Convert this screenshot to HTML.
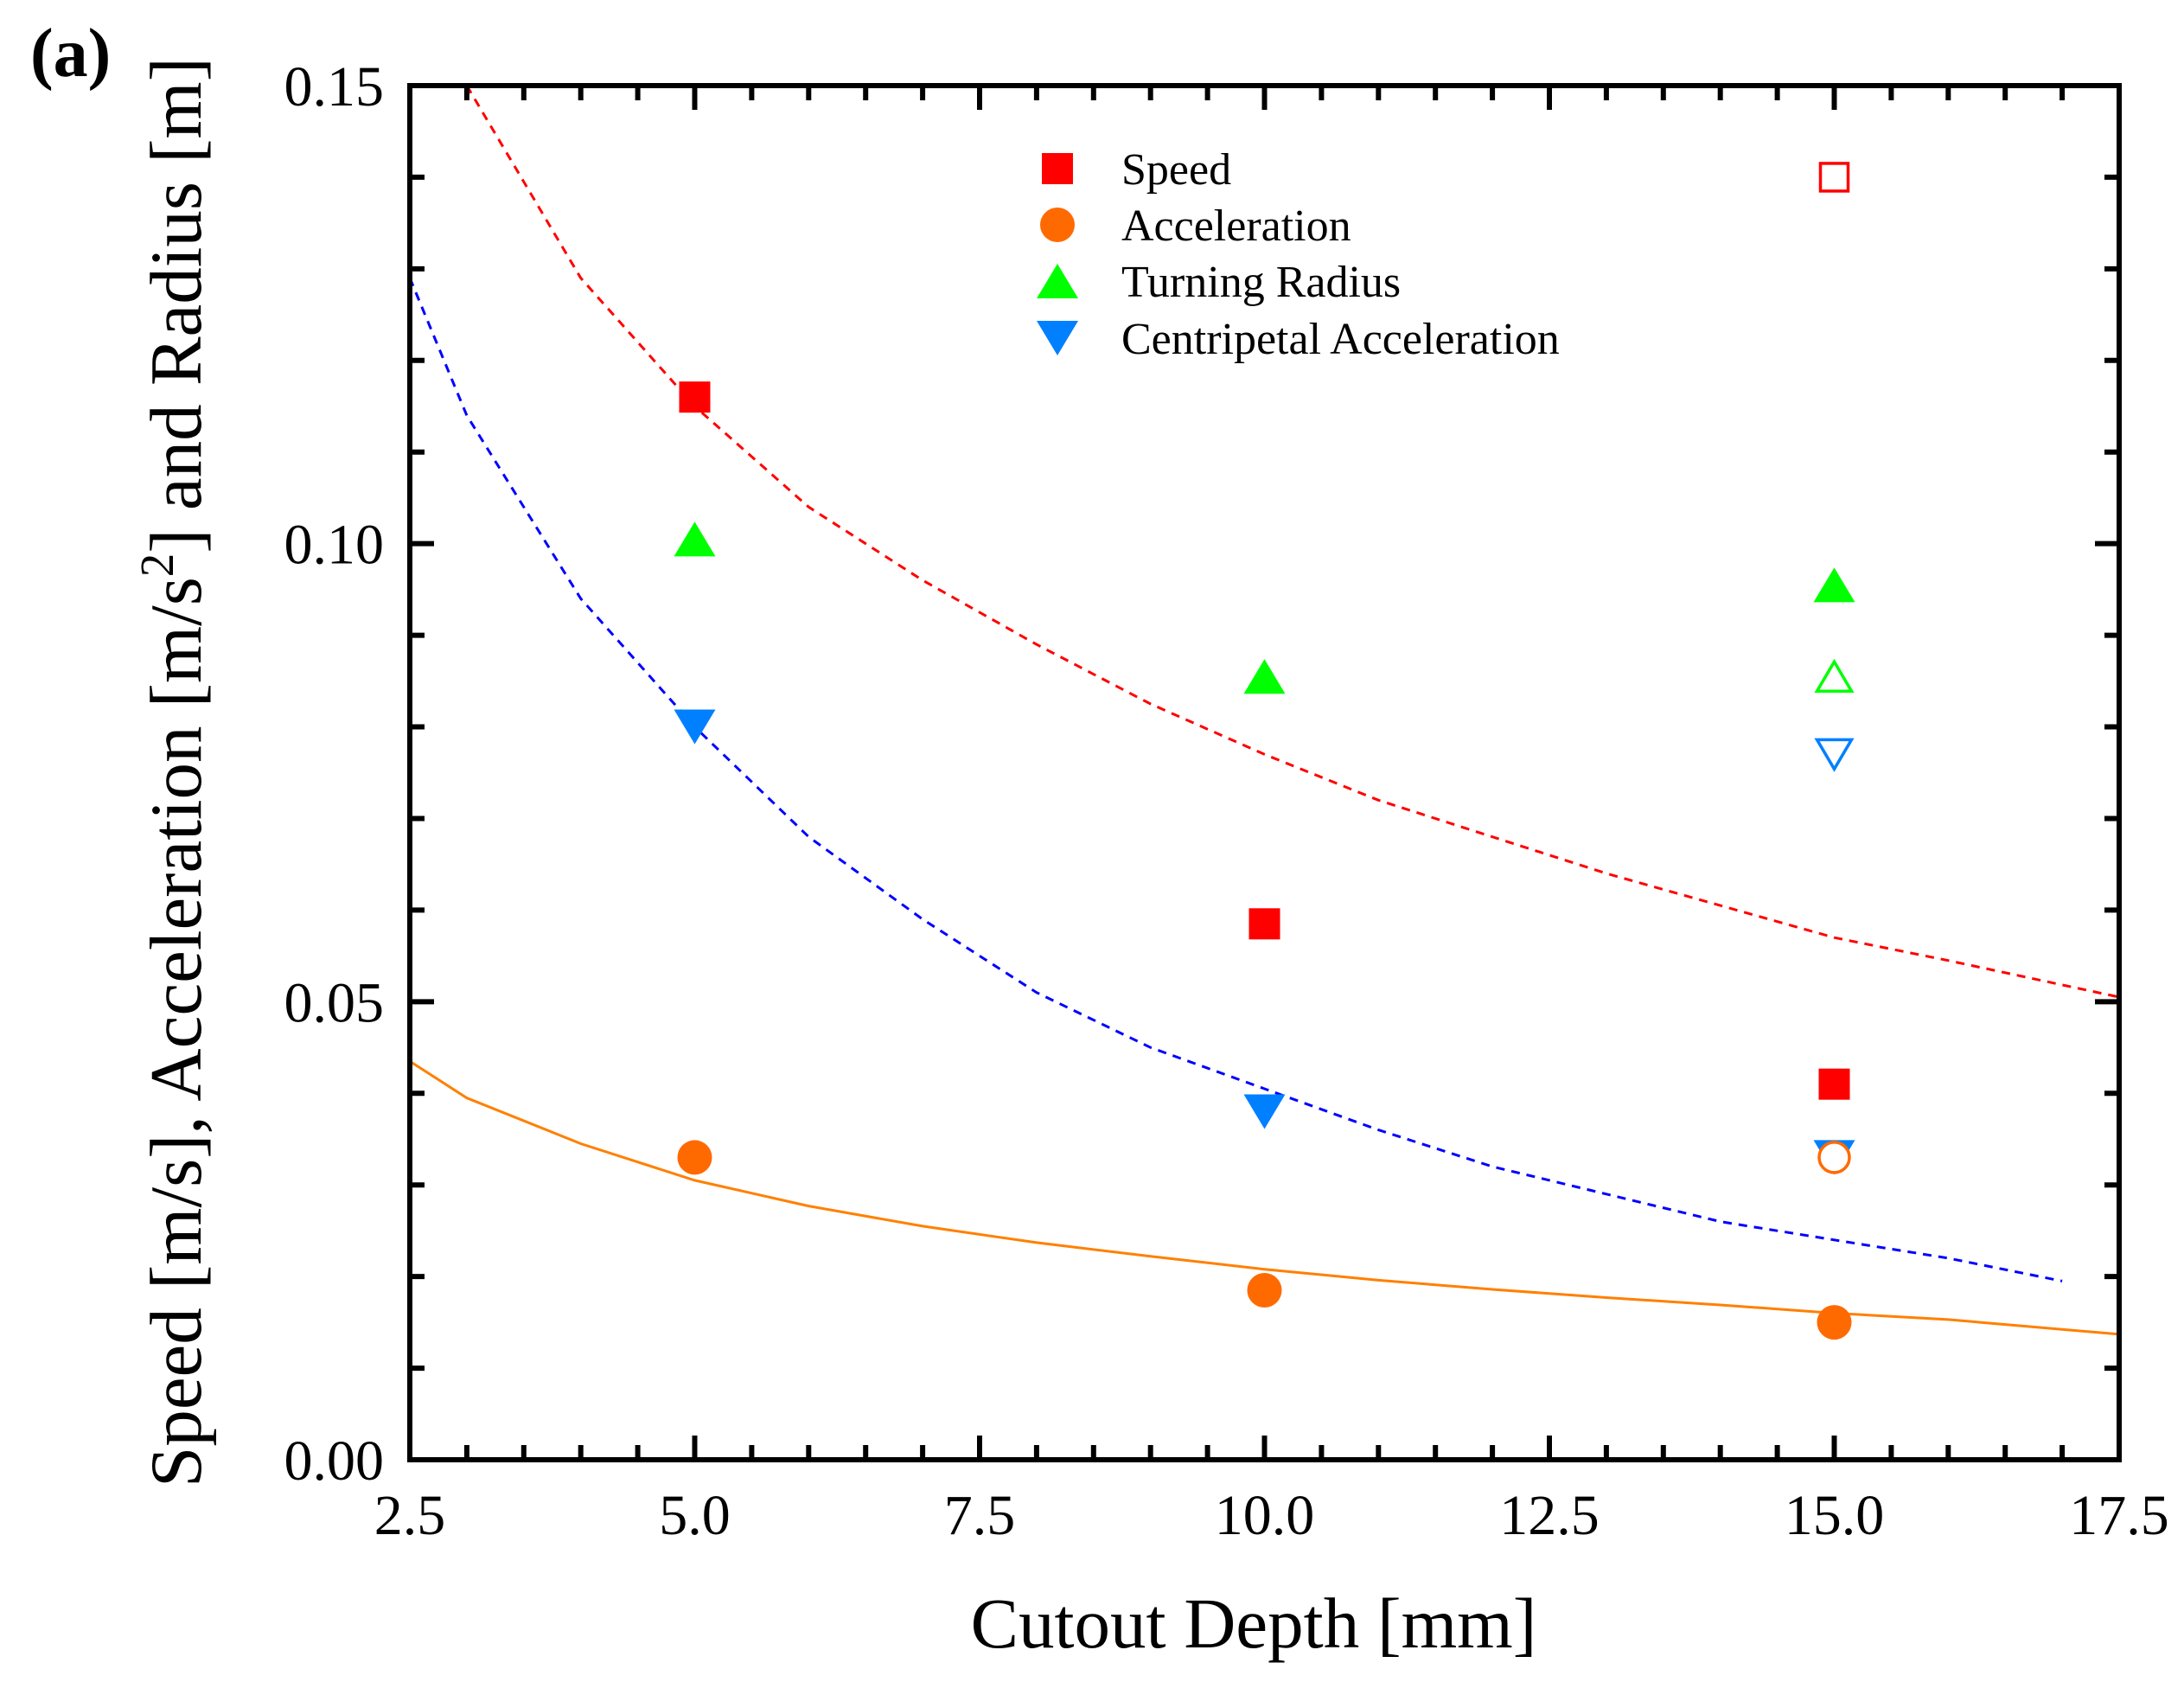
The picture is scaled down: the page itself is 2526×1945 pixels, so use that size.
<!DOCTYPE html>
<html><head><meta charset="utf-8"><style>
html,body{margin:0;padding:0;background:#fff;}
svg{display:block;}
svg text{font-family:"Liberation Serif","Times New Roman",serif;}
</style></head><body>
<svg id="chart" width="2526" height="1945" viewBox="0 0 2526 1945" xmlns="http://www.w3.org/2000/svg">
<g id="curves"></g>
<g id="marks"></g>
<g id="axes"></g>
<g id="legend"></g>
<text x="35" y="88" font-size="80" font-weight="bold" font-family="Liberation Serif, serif">(a)</text>
<text x="1450" y="1905" font-size="83" text-anchor="middle" font-family="Liberation Serif, serif">Cutout Depth [mm]</text>
<text transform="translate(232,893) rotate(-90)" font-size="85" text-anchor="middle" font-family="Liberation Serif, serif">Speed [m/s], Acceleration [m/s<tspan font-size="55" dy="-32">2</tspan><tspan dy="32">] and Radius [m]</tspan></text>
</svg>
<script>
const xTicks = [2.5, 5.0, 7.5, 10.0, 12.5, 15.0, 17.5];
const xTickLabels = ["2.5", "5.0", "7.5", "10.0", "12.5", "15.0", "17.5"];
const yTicks = [0, 0.05, 0.10, 0.15];
const yTickLabels = ["0.00", "0.05", "0.10", "0.15"];
const depths = [5, 10, 15];
const speed = [0.116, 0.0585, 0.041];
const acceleration = [0.033, 0.0185, 0.015];
const turningRadius = [0.1005, 0.0855, 0.0955];
const centripetal = [0.080, 0.038, 0.033];
const openX = [15];
const openSpeed = [0.140];
const openAcceleration = [0.033];
const openRadius = [0.0855];
const openCentripetal = [0.077];
const redCurveX = [3, 4, 5, 6, 7, 8, 9, 10, 11, 12, 13, 14, 15, 16, 17.5];
const redCurveY = [0.150, 0.129, 0.115, 0.104, 0.096, 0.089, 0.0825, 0.077, 0.072, 0.068, 0.064, 0.0605, 0.057, 0.0545, 0.0505];
const blueCurveX = [2.5, 3, 4, 5, 6, 7, 8, 9, 10, 11, 12, 13, 14, 15, 16, 17];
const blueCurveY = [0.129, 0.114, 0.094, 0.080, 0.068, 0.059, 0.051, 0.045, 0.0405, 0.036, 0.032, 0.029, 0.026, 0.024, 0.022, 0.0195];
const orangeCurveX = [2.5, 3, 4, 5, 6, 7, 8, 9, 10, 11, 12, 13, 14, 15, 16, 17.5];
const orangeCurveY = [0.0435, 0.0395, 0.0345, 0.0305, 0.0277, 0.0255, 0.0237, 0.0222, 0.0208, 0.0196, 0.0186, 0.0177, 0.0169, 0.0160, 0.0153, 0.0137];

const L = 474, R = 2451, T = 99, B = 1688;
const X0 = 2.5, X1 = 17.5, Y0 = 0, Y1 = 0.15;
function sx(v) { return L + (v - X0) / (X1 - X0) * (R - L); }
function sy(v) { return B - (v - Y0) / (Y1 - Y0) * (B - T); }
const NS = "http://www.w3.org/2000/svg";
function mk(tag, attrs, parent) {
  const e = document.createElementNS(NS, tag);
  for (const k in attrs) e.setAttribute(k, attrs[k]);
  parent.appendChild(e);
  return e;
}
const curves = document.getElementById('curves');
const marks = document.getElementById('marks');
const axes = document.getElementById('axes');
const legend = document.getElementById('legend');

function curve(xs, ys, color, dash, name) {
  const d = xs.map((x, i) => (i ? 'L' : 'M') + sx(x).toFixed(1) + ',' + sy(ys[i]).toFixed(1)).join(' ');
  const p = mk('path', {d: d, fill: 'none', stroke: color, 'stroke-width': 3}, curves);
  if (dash) p.setAttribute('stroke-dasharray', dash);
  
  
}
curve(redCurveX, redCurveY, '#ff0000', '10,8', 'speed-fit-curve');
curve(blueCurveX, blueCurveY, '#0000ff', '10,8', 'centripetal-fit-curve');
curve(orangeCurveX, orangeCurveY, '#ff8000', null, 'acceleration-fit-curve');

function marker(type, cx, cy, color, filled, parent) {
  const fill = filled ? color : 'none';
  const sw = filled ? 0 : 3.5;
  let e;
  if (type === 'square') {
    const s = filled ? 36 : 32;
    e = mk('rect', {x: cx - s / 2, y: cy - s / 2, width: s, height: s, fill: fill, stroke: color, 'stroke-width': sw}, parent);
  } else if (type === 'circle') {
    e = mk('circle', {cx: cx, cy: cy, r: filled ? 20 : 17.5, fill: fill, stroke: color, 'stroke-width': sw}, parent);
  } else if (type === 'up') {
    const w = filled ? 24 : 20, h = filled ? 20 : 17;
    e = mk('polygon', {points: `${cx},${cy - h} ${cx - w},${cy + h} ${cx + w},${cy + h}`, fill: fill, stroke: color, 'stroke-width': sw}, parent);
  } else {
    const w = filled ? 24 : 20, h = filled ? 20 : 17;
    e = mk('polygon', {points: `${cx - w},${cy - h} ${cx + w},${cy - h} ${cx},${cy + h}`, fill: fill, stroke: color, 'stroke-width': sw}, parent);
  }
  return e;
}
const series = [
  {vals: speed, type: 'square', color: '#ff0000', name: 'speed-point'},
  {vals: turningRadius, type: 'up', color: '#00ff00', name: 'turning-radius-point'},
  {vals: centripetal, type: 'down', color: '#0080ff', name: 'centripetal-point'},
  {vals: acceleration, type: 'circle', color: '#ff6a00', name: 'acceleration-point'}
];
series.forEach(s => {
  depths.forEach((d, i) => {
    const e = marker(s.type, sx(d), sy(s.vals[i]), s.color, true, marks);
    
    
  });
});
const openSeries = [
  {vals: openSpeed, type: 'square', color: '#ff0000', name: 'speed-open-point'},
  {vals: openRadius, type: 'up', color: '#00ff00', name: 'turning-radius-open-point'},
  {vals: openCentripetal, type: 'down', color: '#0080ff', name: 'centripetal-open-point'},
  {vals: openAcceleration, type: 'circle', color: '#ff6a00', name: 'acceleration-open-point'}
];
openSeries.forEach(s => {
  openX.forEach((d, i) => {
    if (s.type === 'circle') {
      const bg = mk('circle', {cx: sx(d), cy: sy(s.vals[i]), r: 17.5, fill: '#fff'}, marks);
      
      
    }
    const e = marker(s.type, sx(d), sy(s.vals[i]), s.color, false, marks);
    
    
  });
});

const frame = mk('rect', {x: L, y: T, width: R - L, height: B - T, fill: 'none', stroke: '#000', 'stroke-width': 6}, axes);


for (let v = 2.5; v <= 17.5001; v += 0.5) {
  const major = Math.abs((v - 2.5) / 2.5 - Math.round((v - 2.5) / 2.5)) < 1e-6;
  const len = major ? 28 : 17;
  if (v > 2.5001 && v < 17.499) {
    const t1 = mk('line', {x1: sx(v), x2: sx(v), y1: B, y2: B - len, stroke: '#000', 'stroke-width': 6}, axes);
    
    
    const t2 = mk('line', {x1: sx(v), x2: sx(v), y1: T, y2: T + len, stroke: '#000', 'stroke-width': 6}, axes);
    
    
  }
}
xTicks.forEach((v, i) => {
  const t = mk('text', {x: sx(v), y: 1774, 'font-size': 66, 'text-anchor': 'middle'}, axes);
  t.textContent = xTickLabels[i];
  
  
});
for (let k = 1; k < 15; k++) {
  const v = k * 0.01;
  const major = k % 5 === 0;
  const len = major ? 28 : 17;
  const t1 = mk('line', {x1: L, x2: L + len, y1: sy(v), y2: sy(v), stroke: '#000', 'stroke-width': 6}, axes);
  
  
  const t2 = mk('line', {x1: R, x2: R - len, y1: sy(v), y2: sy(v), stroke: '#000', 'stroke-width': 6}, axes);
  
  
}
yTicks.forEach((v, i) => {
  const t = mk('text', {x: 444, y: sy(v) + 23, 'font-size': 66, 'text-anchor': 'end'}, axes);
  t.textContent = yTickLabels[i];
  
  
});

const legendLabels = ["Speed", "Acceleration", "Turning Radius", "Centripetal Acceleration"];
const legendTypes = ['square', 'circle', 'up', 'down'];
const legendColors = ['#ff0000', '#ff6a00', '#00ff00', '#0080ff'];
const legendRows = [195, 260, 325, 391];
legendLabels.forEach((lab, i) => {
  const m = marker(legendTypes[i], 1223, legendRows[i], legendColors[i], true, legend);
  
  
  const t = mk('text', {x: 1297, y: legendRows[i] + 18, 'font-size': 52}, legend);
  t.textContent = lab;
  
  
});
</script>
</body></html>
